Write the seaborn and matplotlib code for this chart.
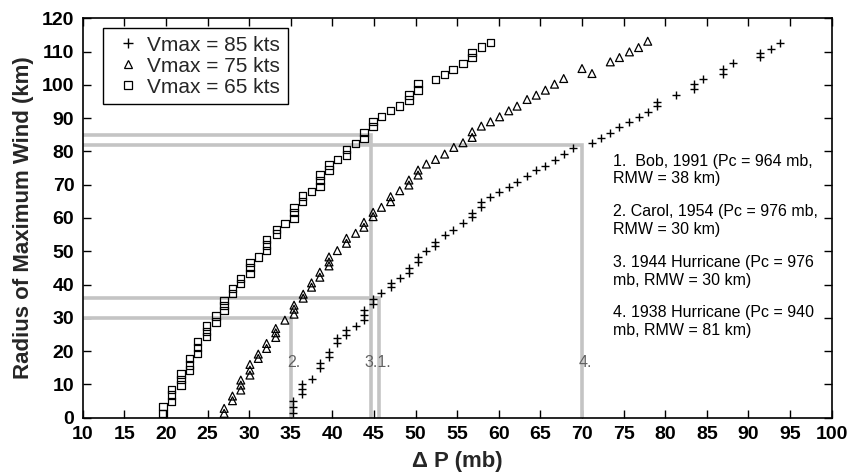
import numpy as np
import pandas as pd
import matplotlib
matplotlib.use("Agg")
import matplotlib.pyplot as plt
import seaborn as sns
from matplotlib.lines import Line2D

# ---------------- data ----------------
v65_dp = [19.65, 19.65, 20.7, 20.7, 20.7, 21.8, 21.8, 21.8, 22.8, 22.8, 22.8,
          23.8, 23.8, 23.8, 24.9, 24.9, 24.9, 26.0, 26.0, 27.0, 27.0, 27.0,
          28.0, 28.0, 29.0, 29.0, 30.1, 30.1, 30.1, 31.1, 32.1, 32.1, 32.1,
          33.3, 33.3, 34.3, 35.4, 35.4, 35.4, 36.4, 36.4, 37.5, 38.5, 38.5, 38.5,
          39.6, 39.6, 40.6, 41.7, 41.7, 42.8, 43.8, 43.8, 44.9, 44.9, 45.9,
          47.0, 48.1, 49.2, 49.2, 50.3, 50.3, 52.4, 53.5, 54.5, 55.7, 56.8, 56.8,
          57.9, 59.0]
v65_rmw = [1.3, 3.3, 4.8, 6.8, 8.5, 9.8, 11.5, 13.1, 14.3, 15.8, 17.8,
           19.3, 21.0, 22.8, 24.3, 25.8, 27.5, 28.8, 30.6, 32.3, 33.8, 35.3,
           37.4, 38.9, 40.4, 41.9, 43.4, 45.1, 46.7, 48.3, 50.2, 51.9, 53.6,
           55.2, 56.6, 58.4, 59.9, 61.6, 63.2, 64.9, 66.6, 67.9, 69.4, 71.2, 72.9,
           74.4, 75.9, 77.6, 78.9, 80.6, 82.4, 83.9, 85.6, 87.4, 88.9, 90.4,
           92.2, 93.6, 95.4, 96.9, 98.4, 100.4, 101.6, 103.2, 104.7, 106.4, 108.2, 109.7,
           111.4, 112.7]

v75_dp = [27.0, 27.0, 28.0, 28.0, 29.0, 29.0, 29.0, 30.1, 30.1, 30.1, 31.1, 31.1,
          32.1, 32.1, 33.2, 33.2, 33.2, 34.3, 35.4, 35.4, 35.4, 36.5, 36.5,
          37.5, 37.5, 38.5, 38.5, 39.6, 39.6, 39.6, 40.6, 41.7, 41.7, 42.8,
          43.8, 43.8, 44.9, 44.9, 45.9, 47.0, 47.0, 48.1, 49.2, 49.2, 50.3, 50.3,
          51.3, 52.4, 53.5, 54.6, 55.7, 56.8, 56.8, 57.9, 59.0, 60.1, 61.2, 62.2,
          63.4, 64.5, 65.6, 66.7, 67.8, 70.0, 71.2, 73.4, 74.5, 75.7, 76.8, 77.9]
v75_rmw = [1.3, 2.8, 5.1, 6.5, 8.3, 9.8, 11.3, 12.8, 14.3, 16.0, 17.8, 19.1,
           20.8, 22.3, 24.1, 25.5, 26.8, 29.3, 31.1, 32.6, 33.8, 35.9, 37.1,
           39.2, 40.5, 42.2, 43.7, 45.6, 46.8, 48.3, 50.2, 52.4, 53.9, 55.4,
           57.2, 58.7, 60.4, 61.7, 63.2, 64.9, 66.4, 68.2, 69.9, 71.4, 72.9, 74.4,
           76.2, 77.6, 79.2, 81.2, 82.6, 84.2, 85.9, 87.6, 88.9, 90.4, 92.2, 93.6,
           95.6, 96.9, 98.4, 100.2, 101.9, 104.9, 103.4, 106.9, 108.2, 109.9, 111.2, 113.1]

v85_dp = [35.3, 35.3, 35.3, 36.4, 36.4, 36.4, 37.5, 38.5, 38.5, 39.6, 39.6,
          40.6, 40.6, 41.7, 41.7, 42.8, 43.8, 43.8, 43.8, 44.9, 44.9, 45.9,
          47.0, 47.0, 48.1, 49.2, 49.2, 50.3, 50.3, 51.3, 52.3, 52.3, 53.5, 54.5,
          55.7, 56.8, 56.8, 57.9, 57.9, 59.0, 60.0, 61.2, 62.2, 63.4, 64.5, 65.6,
          66.7, 67.8, 68.9, 71.2, 72.3, 73.4, 74.5, 75.7, 76.8, 77.9, 79.0, 79.0,
          81.3, 83.5, 83.5, 84.6, 86.9, 86.9, 88.1, 91.4, 91.4, 92.7, 93.8]
v85_rmw = [1.5, 3.3, 5.0, 7.2, 8.7, 10.1, 11.5, 14.8, 16.3, 18.3, 19.8,
           22.3, 23.8, 24.8, 26.3, 27.5, 29.3, 30.8, 32.3, 34.3, 35.6, 37.4,
           39.2, 40.4, 41.9, 43.5, 44.9, 46.8, 48.3, 50.2, 51.6, 52.9, 54.9, 56.4,
           58.4, 60.4, 61.6, 63.4, 64.9, 66.4, 67.9, 69.4, 70.9, 72.6, 74.4, 75.7,
           77.4, 79.2, 80.9, 82.4, 83.9, 85.4, 87.2, 88.9, 90.2, 91.9, 93.6, 94.9,
           96.9, 98.9, 100.4, 101.9, 103.4, 104.9, 106.6, 108.4, 109.7, 110.9, 112.7]

series_labels = ["Vmax = 85 kts", "Vmax = 75 kts", "Vmax = 65 kts"]

# guide lines (storm cases): delta-P and RMW of each corner
guide_dp = [44.6, 45.6, 35.0, 70.0]
guide_rmw = [85.0, 36.0, 30.0, 82.0]

case_marks = ["2.", "3.1.", "4."]
case_mark_x = [34.6, 43.8, 69.6]
case_mark_y = 16.5

notes = ["1.  Bob, 1991 (Pc = 964 mb,\nRMW = 38 km)",
         "2. Carol, 1954 (Pc = 976 mb,\nRMW = 30 km)",
         "3. 1944 Hurricane (Pc = 976\nmb, RMW = 30 km)",
         "4. 1938 Hurricane (Pc = 940\nmb, RMW = 81 km)"]
notes_y = [74.4, 59.2, 43.9, 28.9]
notes_x = 73.7

x_ticks = list(range(10, 101, 5))
y_ticks = list(range(0, 121, 10))

# ---------------- plotting ----------------
sns.set_theme(style="ticks")
plt.rcParams['font.family'] = ['Liberation Sans', 'DejaVu Sans']

fig = plt.figure(figsize=(8.55, 4.76), dpi=100)
ax = fig.add_axes([0.0967, 0.1225, 0.876, 0.8391])

guide_color = "#c4c4c4"
for gx, gy in zip(guide_dp, guide_rmw):
    ax.plot([10, gx, gx], [gy, gy, 0], color=guide_color, lw=2.6,
            solid_capstyle="butt", solid_joinstyle="miter", zorder=1)

df85 = pd.DataFrame({"dp": v85_dp, "rmw": v85_rmw})
df75 = pd.DataFrame({"dp": v75_dp, "rmw": v75_rmw})
df65 = pd.DataFrame({"dp": v65_dp, "rmw": v65_rmw})

sns.scatterplot(data=df85, x="dp", y="rmw", marker="+", s=36, color="black",
                linewidth=1.0, ax=ax, zorder=3, legend=False)
sns.scatterplot(data=df75, x="dp", y="rmw", marker="^", s=32, facecolor="none",
                edgecolor="black", linewidth=0.9, ax=ax, zorder=3, legend=False)
sns.scatterplot(data=df65, x="dp", y="rmw", marker="s", s=28, facecolor="none",
                edgecolor="black", linewidth=0.9, ax=ax, zorder=3, legend=False)

for t, tx in zip(case_marks, case_mark_x):
    ax.text(tx, case_mark_y, t, fontsize=11.5, color="#606060",
            ha="left", va="center", zorder=2)

for t, ty in zip(notes, notes_y):
    ax.text(notes_x, ty, t, fontsize=11.5, color="black", ha="left",
            va="center", linespacing=1.2)

ax.set_xlim(10, 100)
ax.set_ylim(0, 120)
ax.set_xticks(x_ticks)
ax.set_yticks(y_ticks)
ax.tick_params(direction="in", length=5.5, width=1.0, top=True, right=True,
               labelsize=14, colors="black", pad=6)
for lab in ax.get_xticklabels() + ax.get_yticklabels():
    lab.set_fontweight("bold")
for sp in ax.spines.values():
    sp.set_color("black")
    sp.set_linewidth(1.2)

ax.set_xlabel("\u0394 P (mb)", fontsize=16, fontweight="bold", labelpad=6)
ax.set_ylabel("Radius of Maximum Wind (km)", fontsize=16, fontweight="bold",
              labelpad=6)

handles = [
    Line2D([], [], ls="none", marker="+", color="black", markersize=7, mew=1.0),
    Line2D([], [], ls="none", marker="^", mfc="none", mec="black", markersize=6, mew=0.9),
    Line2D([], [], ls="none", marker="s", mfc="none", mec="black", markersize=5.5, mew=0.9),
]
leg = ax.legend(handles, series_labels, loc="upper left",
                bbox_to_anchor=(0.0267, 0.975), borderaxespad=0,
                fontsize=15, frameon=True, fancybox=False, framealpha=1,
                edgecolor="black", borderpad=0.35, handlelength=1.7,
                handletextpad=0.1, labelspacing=0.1)
leg.get_frame().set_linewidth(1.0)

fig.savefig("out.png", dpi=100)
